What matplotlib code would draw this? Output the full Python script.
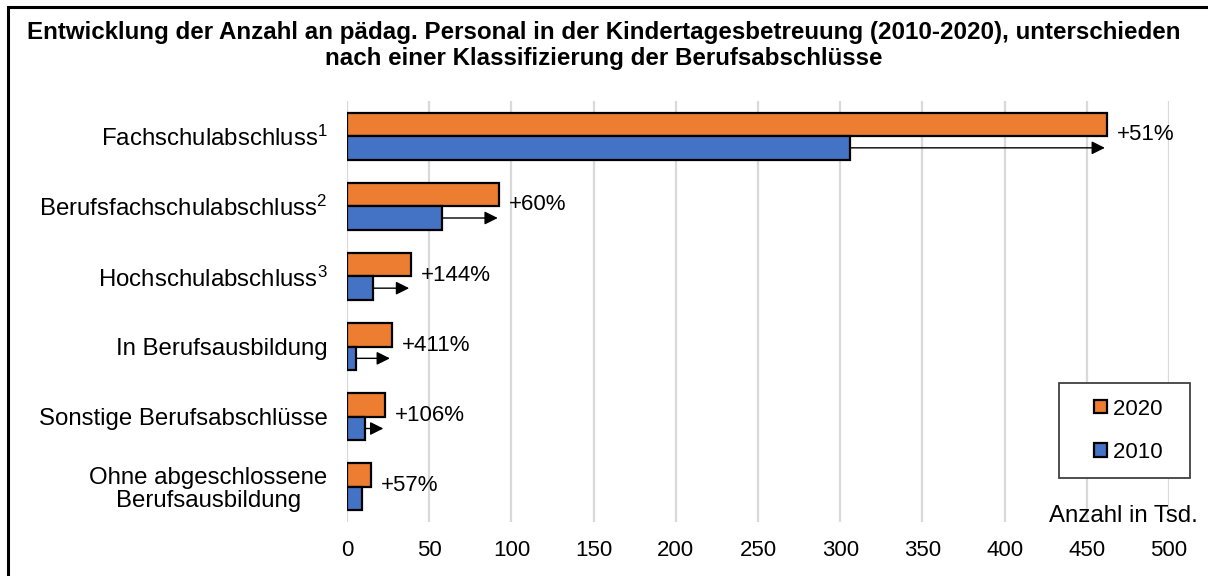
import matplotlib.pyplot as plt
from matplotlib.patches import Patch, Rectangle
from matplotlib.legend_handler import HandlerPatch

plt.rcParams['font.family'] = ['Liberation Sans', 'DejaVu Sans']
plt.rcParams['mathtext.fontset'] = 'custom'
plt.rcParams['mathtext.rm'] = 'Liberation Sans'
plt.rcParams['mathtext.it'] = 'Liberation Sans:italic'

categories = [
    r'Fachschulabschluss$^{\mathrm{1}}$',
    r'Berufsfachschulabschluss$^{\mathrm{2}}$',
    r'Hochschulabschluss$^{\mathrm{3}}$',
    'In Berufsausbildung',
    'Sonstige Berufsabschlüsse',
    'Ohne abgeschlossene\nBerufsausbildung',
]
values_2010 = [306, 58, 15.9, 5.3, 11.2, 9.4]
values_2020 = [462, 92.7, 38.8, 27.1, 23.1, 14.8]
change_labels = ['+51%', '+60%', '+144%', '+411%', '+106%', '+57%']
show_arrow = [True, True, True, True, True, False]
x_ticks = [0, 50, 100, 150, 200, 250, 300, 350, 400, 450, 500]

ORANGE = '#ED7D31'
BLUE = '#4472C4'

W, H = 1208, 576
fig = plt.figure(figsize=(W / 100, H / 100), dpi=100)
ax = fig.add_axes([347 / W, 1 - 522 / H, (1169 - 347) / W, (522 - 101) / H])

h = 0.335
pos = list(range(len(categories)))
ax.barh([p - h / 2 for p in pos], values_2020, height=h, color=ORANGE,
        edgecolor='black', linewidth=1.6, zorder=3)
ax.barh([p + h / 2 for p in pos], values_2010, height=h, color=BLUE,
        edgecolor='black', linewidth=1.6, zorder=3)

# arrows from the 2010 bar towards the 2020 value, plus growth label
for p, old, new, lab, arr in zip(pos, values_2010, values_2020, change_labels, show_arrow):
    if arr:
        ax.annotate('', xy=(new - 1, p + h / 2), xytext=(old, p + h / 2),
                    arrowprops=dict(arrowstyle='-|>', color='black', lw=1,
                                    mutation_scale=20, shrinkA=0, shrinkB=0),
                    zorder=4)
    ax.text(new + 6, p - 0.02, lab, va='center', ha='left', fontsize=16)

ax.set_xlim(0, 500)
ax.set_ylim(5.5, -0.5)
ax.set_xticks(x_ticks)
ax.set_yticks(pos)
ax.set_yticklabels(categories, fontsize=17.3)
ax.tick_params(axis='x', labelsize=16, length=0, pad=13)
ax.tick_params(axis='y', length=0, pad=14)
for lbl in ax.get_yticklabels():
    lbl.set_multialignment('center')
    lbl.set_linespacing(1.05)
ax.grid(axis='x', color='#D9D9D9', linewidth=1.6, zorder=0)
ax.set_axisbelow(True)
for s in ax.spines.values():
    s.set_visible(False)

ax.text(1198 / W, 1 - 516 / H, 'Anzahl in Tsd.', transform=fig.transFigure,
        ha='right', va='center', fontsize=17.3)


def square_right(legend, orig_handle, xdescent, ydescent, width, height, fontsize):
    side = height
    return Rectangle((width - side - xdescent, -ydescent + (height - side) / 2), side, side)


handles = [Patch(facecolor=ORANGE, edgecolor='black', linewidth=1.6),
           Patch(facecolor=BLUE, edgecolor='black', linewidth=1.6)]
leg = ax.legend(handles, ['2020  ', '2010  '], loc='upper right',
                bbox_to_anchor=(1190 / W, 1 - 383 / H), bbox_transform=fig.transFigure,
                fontsize=16, fancybox=False, framealpha=1, edgecolor='#404040',
                handlelength=1.45, handleheight=0.55, handletextpad=0.25,
                labelspacing=1.0, borderpad=0.7, borderaxespad=0,
                handler_map={Patch: HandlerPatch(patch_func=square_right)})
leg.get_frame().set_linewidth(1.3)

fig.text(0.5, 1 - 32 / H, 'Entwicklung der Anzahl an pädag. Personal in der Kindertagesbetreuung (2010-2020), unterschieden',
         ha='center', va='center', fontsize=17.4, fontweight='bold')
fig.text(0.5, 1 - 58 / H, 'nach einer Klassifizierung der Berufsabschlüsse',
         ha='center', va='center', fontsize=17.4, fontweight='bold')

# outer frame (right and bottom edges fall outside the image)
fig.patches.append(Rectangle((8 / W, -0.1), 1.2, 1 - 7 / H + 0.1,
                             transform=fig.transFigure, fill=False,
                             edgecolor='black', linewidth=2.2))

fig.savefig('out.png', dpi=100)
